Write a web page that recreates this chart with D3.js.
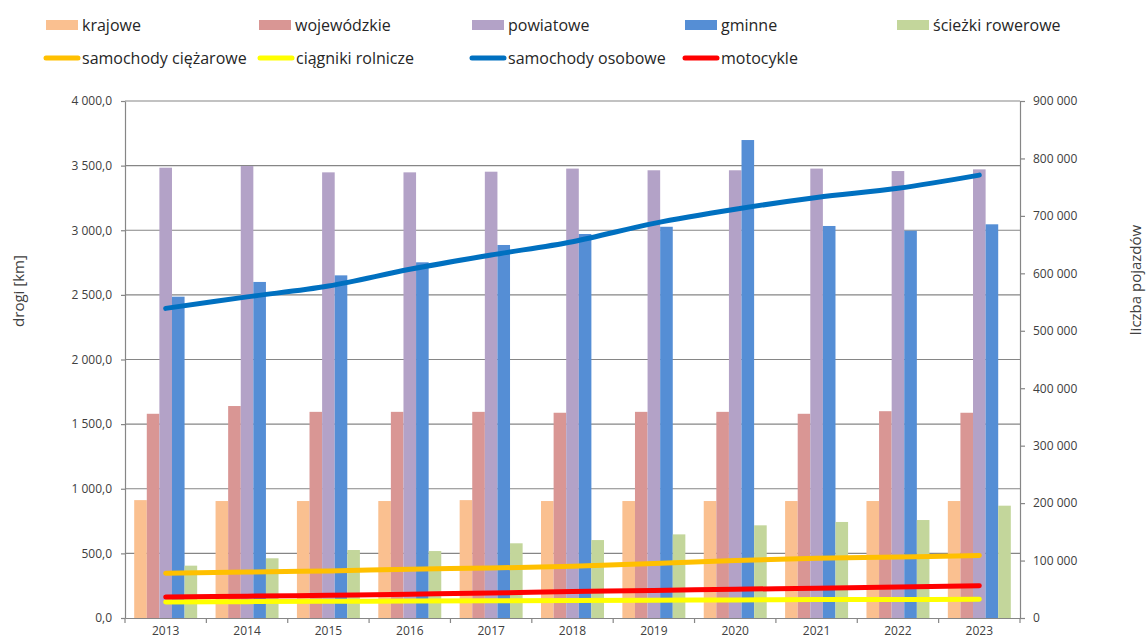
<!DOCTYPE html>
<html><head><meta charset="utf-8">
<script src="https://cdn.jsdelivr.net/npm/d3@7"></script>
<style>
body{margin:0;background:#fff;}
svg{display:block;font-family:"Open Sans",sans-serif;}
</style></head>
<body><svg id="c" width="1146" height="640"></svg>
<script>
const years = ["2013","2014","2015","2016","2017","2018","2019","2020","2021","2022","2023"];
const barNames = ["krajowe","wojewódzkie","powiatowe","gminne","ścieżki rowerowe"];
const krajowe = [912,905,905,905,912,905,905,905,905,905,905];
const wojewodzkie = [1580,1640,1595,1595,1595,1588,1595,1595,1580,1600,1588];
const powiatowe = [3484,3497,3448,3448,3453,3477,3464,3464,3477,3458,3471];
const gminne = [2486,2600,2651,2752,2886,2971,3027,3698,3033,2996,3046];
const sciezki = [405,462,526,518,578,603,647,717,743,758,869];
const lineNames = ["samochody ciężarowe","ciągniki rolnicze","samochody osobowe","motocykle"];
const ciezarowe = [78000,80000,82000,85000,87000,90000,95000,100000,104000,106000,109000];
const ciagniki = [27800,28500,29000,29500,30000,30500,31000,31500,32000,32300,32600];
const osobowe = [539000,559000,578000,607000,632000,655000,687000,711500,732000,748000,771000];
const motocykle = [36500,38000,39500,41500,43500,46000,48000,50000,52000,54000,56000];
const leftTicks = [0,500,1000,1500,2000,2500,3000,3500,4000];
const rightTicks = [0,100000,200000,300000,400000,500000,600000,700000,800000,900000];
const leftTitle = "drogi [km]";
const rightTitle = "liczba pojazdów";

const barSeries = [krajowe,wojewodzkie,powiatowe,gminne,sciezki];
const barColors = ["#FAC090","#D99694","#B3A2C7","#558ED5","#C3D69B"];
const lineSeries = [ciezarowe,ciagniki,osobowe,motocykle];
const lineColors = ["#FFC000","#FFFF00","#0070C0","#FF0000"];

const svg = d3.select("#c");
const L=125,R=1020,T=101,B=618;
const x = d3.scaleBand().domain(years).range([L,R]).padding(0);
const xi = d3.scaleBand().domain(barNames).range([0,x.bandwidth()]).paddingInner(0).paddingOuter(0.73);
const yL = d3.scaleLinear().domain([0,4000]).range([B,T]);
const yR = d3.scaleLinear().domain([0,900000]).range([B,T]);
const loc = d3.formatLocale({decimal:",",thousands:"\u00a0",grouping:[3],currency:["",""]});
const fL = loc.format(",.1f"), fR = loc.format(",d");
const grey="#868686", txt="#404040";

// gridlines
svg.append("g").selectAll("line").data(leftTicks.filter(d=>d>0)).join("line")
  .attr("x1",L).attr("x2",R).attr("y1",d=>yL(d)).attr("y2",d=>yL(d))
  .attr("stroke",grey).attr("stroke-width",1.2);

// bars
const gb = svg.append("g");
years.forEach((yr,i)=>{
  barNames.forEach((n,j)=>{
    const v = barSeries[j][i];
    gb.append("rect").attr("x",x(yr)+xi(n)).attr("width",xi.bandwidth())
      .attr("y",yL(v)).attr("height",B-yL(v)).attr("fill",barColors[j]);
  });
});

// axes
const axL = svg.append("g").attr("transform",`translate(${L},0)`)
  .call(d3.axisLeft(yL).tickValues(leftTicks).tickFormat(fL).tickSizeInner(4).tickSizeOuter(0).tickPadding(9));
const axR = svg.append("g").attr("transform",`translate(${R},0)`)
  .call(d3.axisRight(yR).tickValues(rightTicks).tickFormat(fR).tickSizeInner(5).tickSizeOuter(0).tickPadding(8));
const axB = svg.append("g").attr("transform",`translate(0,${B})`)
  .call(d3.axisBottom(x).tickSize(0).tickPadding(8));
axB.append("g").selectAll("line").data(years.map(y=>x(y)).concat([R])).join("line")
  .attr("x1",d=>d).attr("x2",d=>d).attr("y1",0).attr("y2",5).attr("stroke",grey).attr("stroke-width",1.2);
[axL,axR,axB].forEach(a=>{
  a.selectAll(".domain").attr("stroke",grey).attr("stroke-width",1.2);
  a.selectAll(".tick line").attr("stroke",grey).attr("stroke-width",1.2);
  a.selectAll("text").attr("fill",txt).style("font-size","12px").style("font-family","'Open Sans',sans-serif");
});

// lines
const line = d3.line().x((d,i)=>x(years[i])+x.bandwidth()/2).y(d=>yR(d)).curve(d3.curveCatmullRom.alpha(0.5));
lineSeries.forEach((s,k)=>{
  svg.append("path").datum(s).attr("d",line).attr("fill","none")
    .attr("stroke",lineColors[k]).attr("stroke-width",5).attr("stroke-linecap","round").attr("stroke-linejoin","round");
});

// axis titles
svg.append("text").attr("transform","translate(19,291) rotate(-90)").attr("text-anchor","middle")
  .attr("dy","0.35em").attr("fill",txt).style("font-size","15px").text(leftTitle);
svg.append("text").attr("transform","translate(1136,280) rotate(-90)").attr("text-anchor","middle")
  .attr("dy","0.35em").attr("fill",txt).style("font-size","15px").text(rightTitle);

// legend
const lg = svg.append("g");
const row1x = [46,259,472,685,897];
barNames.forEach((n,j)=>{
  lg.append("rect").attr("x",row1x[j]).attr("y",20).attr("width",32).attr("height",10).attr("fill",barColors[j]);
  lg.append("text").attr("x",row1x[j]+36).attr("y",25).attr("dy","0.35em").attr("fill","#262626").style("font-size","16px").text(n);
});
const row2x = [44,258,470,683];
lineNames.forEach((n,k)=>{
  lg.append("line").attr("x1",row2x[k]+2).attr("x2",row2x[k]+34).attr("y1",58).attr("y2",58)
    .attr("stroke",lineColors[k]).attr("stroke-width",5).attr("stroke-linecap","round");
  lg.append("text").attr("x",row2x[k]+38).attr("y",58).attr("dy","0.35em").attr("fill","#262626").style("font-size","16px").text(n);
});
</script></body></html>
